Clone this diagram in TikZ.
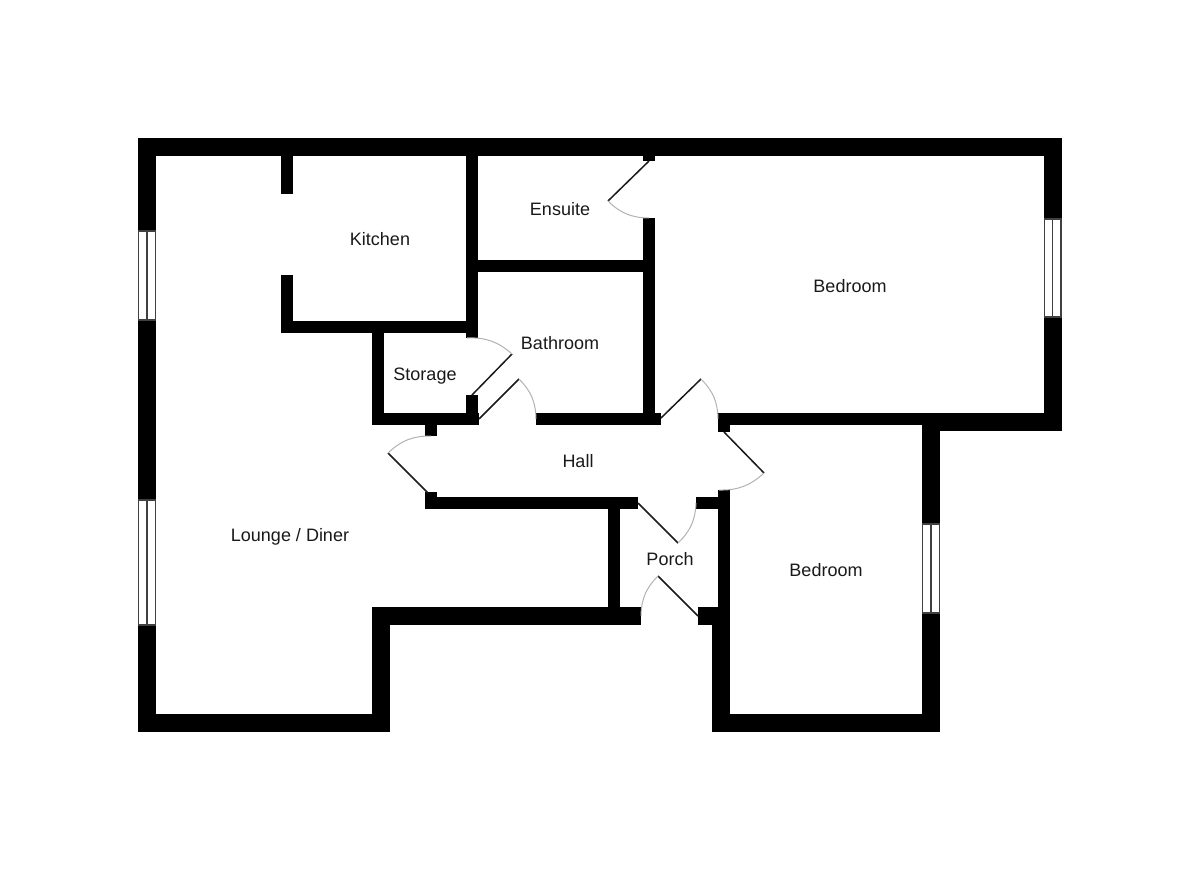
\documentclass[tikz,border=0pt]{standalone}
\usepackage{fontspec}
\setmainfont{Liberation Sans}
\usepackage{tikz}
\tikzset{
  wall/.style={fill=black},
  glass/.style={fill=white,draw=black!75,line width=1.3pt},
  glassbar/.style={draw=black!75,line width=1.3pt},
  leaf/.style={draw=black!90,line width=1.5pt},
  swing/.style={draw=black!30,line width=1pt},
  room/.style={font=\fontsize{18}{20}\selectfont,text=black!90,inner sep=0pt}
}

\begin{document}
\begin{tikzpicture}[x=1pt,y=-1pt]

    \useasboundingbox (0,0) rectangle (1200,870);

    % outer walls
    \fill[wall] (138,138) rectangle (1061.5,156);
    \fill[wall] (138,138) rectangle (156,732);
    \fill[wall] (138,714) rectangle (390,732);
    \fill[wall] (372,607) rectangle (390,732);
    \fill[wall] (372,607) rectangle (641,625);
    \fill[wall] (698,607) rectangle (730,625);
    \fill[wall] (712,625) rectangle (730,732);
    \fill[wall] (712,714) rectangle (940,732);
    \fill[wall] (922,413) rectangle (940,732);
    \fill[wall] (922,413) rectangle (1061.5,431);
    \fill[wall] (1043.5,138) rectangle (1061.5,431);

    % kitchen and storage
    \fill[wall] (281,156) rectangle (293,194);
    \fill[wall] (281,275) rectangle (293,333);
    \fill[wall] (281,321) rectangle (478,333);
    \fill[wall] (466,156) rectangle (478,338);
    \fill[wall] (372,321) rectangle (384,425);
    \fill[wall] (466,395) rectangle (478,425);
    \fill[wall] (372,413) rectangle (479,425);
    \fill[wall] (425,425) rectangle (437,436);

    % ensuite and bathroom
    \fill[wall] (643,156) rectangle (655,161);
    \fill[wall] (643,218) rectangle (655,425);
    \fill[wall] (478,260) rectangle (643,272);
    \fill[wall] (536,413) rectangle (661,425);

    % hall and porch
    \fill[wall] (718,413) rectangle (940,425);
    \fill[wall] (718,413) rectangle (730,432);
    \fill[wall] (425,497) rectangle (638,509);
    \fill[wall] (425,492) rectangle (437,509);
    \fill[wall] (608,497) rectangle (620,607);
    \fill[wall] (696,497) rectangle (730,509);
    \fill[wall] (718,490) rectangle (730,607);

    % windows
    \filldraw[glass] (138.6,231) rectangle (155.4,320);
    \draw[glassbar] (147,231) -- (147,320);
    \filldraw[glass] (138.6,500) rectangle (155.4,625);
    \draw[glassbar] (147,500) -- (147,625);
    \filldraw[glass] (1044.6,219) rectangle (1060.9,317);
    \draw[glassbar] (1052.7,219) -- (1052.7,317);
    \filldraw[glass] (922.6,524) rectangle (939.4,613);
    \draw[glassbar] (931,524) -- (931,613);

    % doors
    \draw[leaf] (649,161) -- (608,201);
    \draw[swing] (608,201) to[bend right=22] (649,218);
    \draw[leaf] (472,395) -- (512,354);
    \draw[swing] (512,354) to[bend right=22] (467,338);
    \draw[leaf] (479,419) -- (519,379);
    \draw[swing] (519,379) to[bend left=22] (536,419);
    \draw[leaf] (428,493) -- (388,453);
    \draw[swing] (388,453) to[bend left=22] (431,436);
    \draw[leaf] (661,418) -- (701,379);
    \draw[swing] (701,379) to[bend left=22] (718,419);
    \draw[leaf] (724,432) -- (764,473);
    \draw[swing] (764,473) to[bend left=22] (719,490);
    \draw[leaf] (638,503) -- (678,543);
    \draw[swing] (678,543) to[bend right=22] (696,503);
    \draw[leaf] (698,616) -- (658,576);
    \draw[swing] (658,576) to[bend right=22] (641,616);

    % room labels
    \node[room] (kitchen) at (380,239) {Kitchen};
    \node[room] (ensuite) at (560,209) {Ensuite};
    \node[room] (bedroomone) at (850,286) {Bedroom};
    \node[room] (bathroom) at (560,343) {Bathroom};
    \node[room] (storage) at (425,376) {Storage};
    \node[room] (hall) at (578,461.5) {Hall};
    \node[room] (lounge) at (290,537) {Lounge / Diner};
    \node[room] (porch) at (670,559) {Porch};
    \node[room] (bedroomtwo) at (826,570) {Bedroom};
  \end{tikzpicture}
\end{document}
